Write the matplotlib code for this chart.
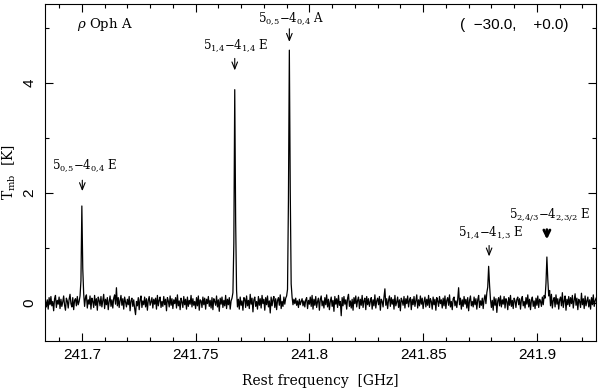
import numpy as np
import matplotlib
matplotlib.use("Agg")
import matplotlib.pyplot as plt
from matplotlib.ticker import MultipleLocator

plt.rcParams['font.family'] = 'DejaVu Serif'
plt.rcParams['mathtext.fontset'] = 'dejavuserif'

# spectrum: first channel frequency and channel width [GHz]
freq_start = 241.6840
freq_step = 0.0004

# main beam temperature per channel, in units of 0.01 K
tmb_cK = [
    3, -8, 5, -12, 9, -4, 11, -6, 2, -15, 7, 13, -9, 4, -3, 10, -11, 6, -7, 1,
    12, -5, -14, 8, 3, -10, 6, 15, -2, -8, 9, -13, 4, 7, -6, 11, -4, 2, 12, 40,
    176, 62, 16, -7, 9, 14, -10, 5, -3, 12, -12, 8, 2, -9, 13, -5, 7, -14, 10, 4,
    -6, 11, -8, 3, 15, -11, 6, -4, 9, -13, 2, 12, -7, 5, -10, 8, 14, -3, 27, -6,
    9, -9, 4, 13, -5, 7, -12, 10, 1, -8, 6, -4, 11, -15, 3, 8, -7, 5, -11, -22,
    2, -6, 9, -13, 5, 12, -9, 3, -4, 10, -8, 7, -14, 4, 11, -5, 1, 9, -10, 6,
    -3, 8, -12, 13, -6, 4, 10, -9, 2, -7, 11, -4, 6, -15, 9, 3, -8, 12, -5, 7,
    -11, 5, -2, 9, -10, 14, -6, 3, -13, 8, 1, -9, 11, -4, 6, -12, 10, -7, 4, -3,
    13, -8, 7, -5, 2, -11, 9, -6, 12, -14, 5, 3, -9, 10, -4, 8, -12, 6, -2, 11,
    -7, 4, -10, 9, -13, 7, 2, -5, 12, -8, 5, -16, 8, -3, 10, -9, 4, -6, 13, -11,
    6, -4, 9, -12, 3, 8, 18, 108, 388, 148, 22, -8, 6, -12, 10, -5, 3, -14, 9, 7,
    -9, 12, -6, 4, -11, 15, -3, 8, -17, 5, 10, -7, 2, -12, 11, -5, 7, -10, 13, -2,
    6, -14, 9, -4, 12, -8, 3, -19, 10, -6, 5, 11, -9, 7, -13, 4, 9, -5, 14, -11,
    2, -7, 10, -3, 8, 12, 24, 186, 460, 204, 34, 10, -4, 6, -2, 8, -5, 3, -9, 6,
    -4, 2, 7, -6, 3, -8, 5, 9, -11, 4, -3, 10, -7, 13, -12, 6, -5, 11, -9, 2,
    8, -14, 5, 12, -6, 3, -10, 9, -4, 14, -8, 6, -13, 2, 10, -7, 4, -16, 11, -3,
    7, -9, 13, -5, 2, -24, 9, -6, 11, -3, 5, -12, 8, 15, -7, 3, -10, 6, -14, 9,
    -2, 12, -8, 4, 10, -11, 6, -5, 13, -9, 3, 8, -13, 11, -4, 7, -7, 2, 9, -12,
    5, -6, 14, -10, 3, 8, -4, 11, -14, 6, 2, -8, 10, 25, -5, 7, -11, 4, 12, -7,
    9, -3, 6, -12, 13, -6, 1, 10, -9, 5, -15, 8, 3, -5, 11, -10, 7, -2, 12, -8,
    4, 9, -13, 6, -4, 11, -7, 3, 14, -10, 5, -6, 12, -3, 8, -11, 2, 10, -8, 6,
    -5, 13, -9, 7, 2, -12, 10, -4, 6, -14, 9, 3, -7, 11, -2, 5, -10, 8, -6, 12,
    -11, 4, 9, -5, 14, -8, 2, -13, 7, 10, -6, 3, -9, 6, 27, -4, 8, -12, 5, -7,
    11, -3, 6, -10, 9, -15, 4, 12, -6, 2, -8, 10, -4, 7, -12, 5, 13, -9, 3, -5,
    8, -11, 6, 14, -2, 18, 28, 66, 32, 6, -9, 4, -14, 10, -5, 7, -18, 3, 9, -6,
    12, -8, 5, -3, 11, -10, 7, 2, -13, 9, -5, 13, -7, 4, -11, 8, 3, -9, 6, 10,
    -4, 7, -12, 5, 11, -6, 2, -10, 9, -3, 14, -8, 6, -13, 4, 10, -7, 3, -11, 8,
    -5, 12, -9, 6, 2, -7, 10, -4, 13, 8, 35, 83, 42, 12, 22, -6, 15, -10, 4, 9,
    -8, 14, -3, 7, -12, 5, 10, -6, 18, -9, 3, 12, -14, 6, -4, 11, -7, 9, -2, 13,
    -10, 4, 16, -5, 8, -13, 6, 2, -9, 17, -4, 7, -11, 12, -6, 3, 10, -8, 5, -12,
    9, -4, 14, -7, 3, 8,
]

# line identifications: label, frequency [GHz], label height, arrow tail, arrow head [K]
line_labels = [r'$5_{0{,}5}{-}4_{0{,}4}$ E', r'$5_{1{,}4}{-}4_{1{,}4}$ E',
               r'$5_{0{,}5}{-}4_{0{,}4}$ A', r'$5_{1{,}4}{-}4_{1{,}3}$ E',
               r'$5_{2{,}4/3}{-}4_{2{,}3/2}$ E']
line_freqs = [241.7002, 241.7672, 241.7912, 241.8790, 241.9044]
label_x = [241.7014, 241.7675, 241.7921, 241.8798, 241.9057]
label_y = [2.50, 4.70, 5.19, 1.28, 1.61]
arrow_top = [2.28, 4.50, 5.04, 1.09, 1.38]
arrow_tip = [1.98, 4.18, 4.70, 0.79, 1.10]
arrow_bold = [False, False, False, False, True]

freq = freq_start + freq_step * np.arange(len(tmb_cK))
tmb = np.array(tmb_cK) / 100.0

fig = plt.figure(figsize=(6.0, 3.91), dpi=100)
ax = fig.add_axes([0.075, 0.128, 0.918, 0.863])

ax.plot(freq, tmb, color='black', lw=0.9)

for lab, f, lx, ly, at, ah, bold in zip(line_labels, line_freqs, label_x, label_y,
                                       arrow_top, arrow_tip, arrow_bold):
    ax.text(lx, ly, lab, ha='center', va='center', fontsize=8.5)
    if bold:
        props = dict(arrowstyle='->,head_length=0.45,head_width=0.22', lw=2.0, color='black')
    else:
        props = dict(arrowstyle='->,head_length=0.5,head_width=0.2', lw=0.8, color='black')
    ax.annotate('', xy=(f, ah), xytext=(f, at), arrowprops=props)

ax.text(241.6978, 5.06, r'$\rho$ Oph A', ha='left', va='center', fontsize=9.5)
ax.text(241.9140, 5.06, '(  \u221230.0,    +0.0)', ha='right', va='center',
        fontsize=11, family='Liberation Sans')

ax.set_xlim(241.6838, 241.9259)
ax.set_ylim(-0.70, 5.45)
ax.xaxis.set_major_locator(MultipleLocator(0.05))
ax.xaxis.set_minor_locator(MultipleLocator(0.01))
ax.yaxis.set_major_locator(MultipleLocator(2))
ax.yaxis.set_minor_locator(MultipleLocator(1))
ax.set_xticks([241.7, 241.75, 241.8, 241.85, 241.9])
ax.set_xticklabels(['241.7', '241.75', '241.8', '241.85', '241.9'])
ax.tick_params(which='both', direction='in', top=True, right=True, width=0.8)
ax.tick_params(which='major', length=5.5)
ax.tick_params(which='minor', length=3.2)
for t in ax.get_xticklabels() + ax.get_yticklabels():
    t.set_family('Liberation Sans')
    t.set_fontsize(11)
for t in ax.get_yticklabels():
    t.set_rotation(90)
    t.set_va('center')
ax.tick_params(axis='x', pad=5)
ax.tick_params(axis='y', pad=6)

ax.set_xlabel('Rest frequency  [GHz]', fontsize=10, labelpad=9)
ax.set_ylabel(r'T$_{\mathrm{mb}}$  [K]', fontsize=10)
ax.yaxis.set_label_coords(-0.049, 0.5)

fig.savefig('out.png', dpi=100)
